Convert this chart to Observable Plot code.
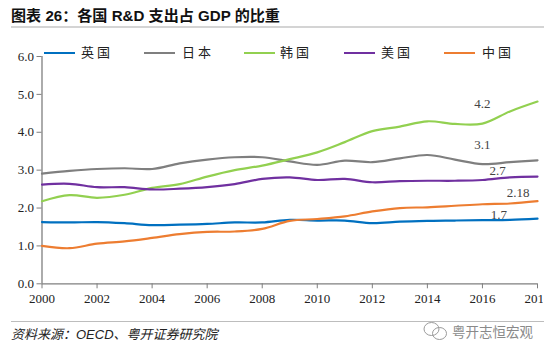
<!DOCTYPE html>
<html lang="zh-CN">
<head>
<meta charset="utf-8">
<script src="https://cdn.jsdelivr.net/npm/d3@7"></script>
<script src="https://cdn.jsdelivr.net/npm/@observablehq/plot@0.6"></script>
<style>
html,body{margin:0;padding:0;background:#fff;}
#page{position:relative;width:550px;height:355px;overflow:hidden;background:#fff;}
#title{position:absolute;left:11px;top:6px;font:bold 15.1px "Liberation Sans","Noto Sans CJK SC",sans-serif;color:#111;white-space:pre;line-height:20px;}
.rule{position:absolute;left:11px;width:533px;}
#chart{position:absolute;left:0;top:40px;width:543px;height:270px;overflow:hidden;}
#chart svg{overflow:hidden;max-width:none !important;width:550px;height:270px;}
.lg{position:absolute;top:44px;font:13px/16px "Noto Sans CJK SC",serif;color:#222;letter-spacing:3px;white-space:pre;}
.sw{position:absolute;top:51.5px;width:31px;height:2px;}
#source{position:absolute;left:11px;top:326px;font:italic 13px/18px "Liberation Sans","Noto Sans CJK SC",sans-serif;color:#222;white-space:pre;}
#wm{position:absolute;left:452px;top:322px;font:13.5px/18px "Noto Sans CJK SC",sans-serif;color:#8a8a8a;white-space:pre;}
#icon{position:absolute;left:423px;top:321px;}
</style>
</head>
<body>
<div id="page">
  <div id="title">图表 26：各国 R&amp;D 支出占 GDP 的比重</div>
  <div class="rule" style="top:26px;height:2px;background:#d4d4d4"></div>
  <div id="chart"></div>
  <div id="legend"></div>
  <div class="rule" style="top:321px;height:1px;background:#bdbdbd"></div>
  <div id="source">资料来源：OECD、粤开证券研究院</div>
  <svg id="icon" width="26" height="22" fill="none" stroke="#9a9a9a" stroke-width="1">
    <ellipse cx="8.5" cy="8" rx="7.5" ry="6.5"/>
    <ellipse cx="16.5" cy="12.5" rx="7" ry="6"/>
  </svg>
  <div id="wm">粤开志恒宏观</div>
</div>
<script>
const years = d3.range(2000, 2019);
const uk    = [1.63,1.62,1.63,1.60,1.55,1.56,1.58,1.62,1.62,1.69,1.67,1.67,1.60,1.64,1.66,1.67,1.68,1.69,1.72];
const japan = [2.91,2.98,3.03,3.05,3.03,3.18,3.28,3.34,3.34,3.23,3.14,3.25,3.21,3.31,3.40,3.28,3.16,3.21,3.26];
const korea = [2.18,2.34,2.27,2.35,2.53,2.63,2.83,3.00,3.12,3.29,3.47,3.74,4.03,4.15,4.29,4.22,4.23,4.55,4.81];
const usa   = [2.62,2.64,2.55,2.55,2.49,2.51,2.55,2.63,2.77,2.81,2.74,2.77,2.68,2.71,2.72,2.72,2.74,2.81,2.83];
const china = [1.00,0.94,1.06,1.12,1.21,1.31,1.37,1.38,1.45,1.66,1.71,1.78,1.91,2.00,2.02,2.06,2.10,2.12,2.18];

const names  = ["英国","日本","韩国","美国","中国"];
const values = [uk, japan, korea, usa, china];
const colors = ["#0070C0","#7F7F7F","#92D050","#7030A0","#ED7D31"];

const labelText = ["4.2","3.1","2.7","2.18","1.7"];
const labelYear = [2016,2016,2016.55,2017.3,2016.6];
const labelVal  = [4.22,3.16,2.72,2.14,1.68];
const labelDy   = [-20,-19,-10,-10,-5];

const series = names.flatMap((n,i)=>years.map((y,j)=>({name:n,year:y,value:values[i][j]})));
const labels = labelText.map((t,i)=>({t,year:labelYear[i],value:labelVal[i],dy:labelDy[i]}));
const axisColor = "#7f7f7f";
const tickFont = {fontFamily:"Liberation Serif, serif", fontSize:13, fill:"#222"};

const plot = Plot.plot({
  width:550, height:270,
  marginLeft:41.5, marginRight:13, marginTop:16, marginBottom:26.7,
  style:{fontFamily:"Liberation Serif, serif",fontSize:"13px",background:"transparent",overflow:"hidden"},
  x:{domain:[2000,2018]},
  y:{domain:[0,6]},
  color:{domain:names,range:colors},
  marks:[
    Plot.ruleX([2000],{stroke:axisColor,strokeWidth:1.3}),
    Plot.ruleY([0],{stroke:axisColor,strokeWidth:1.3}),
    Plot.axisY({ticks:d3.range(0,7),tickFormat:d3.format(".1f"),tickSize:5,tickPadding:3,stroke:axisColor,label:null,...tickFont}),
    Plot.axisX({ticks:d3.range(2000,2019,2),tickFormat:d=>String(d),tickSize:5,tickPadding:5,stroke:axisColor,label:null,...tickFont}),
    ...labels.map(l=>Plot.text([l],{x:"year",y:"value",text:"t",dy:l.dy,fill:"#444",fontFamily:"Liberation Serif, serif",fontSize:13})),
    Plot.line(series,{x:"year",y:"value",z:"name",stroke:"name",strokeWidth:2.2,curve:"catmull-rom"})
  ]
});
document.getElementById("chart").appendChild(plot);

const swX = [44,144,244,344,444];
const txX = [81,182,280,381,482];
const lg = document.getElementById("legend");
names.forEach((n,i)=>{
  const s=document.createElement("div");s.className="sw";s.style.left=swX[i]+"px";s.style.background=colors[i];lg.appendChild(s);
  const t=document.createElement("div");t.className="lg";t.style.left=txX[i]+"px";t.textContent=n;lg.appendChild(t);
});
</script>
</body>
</html>
